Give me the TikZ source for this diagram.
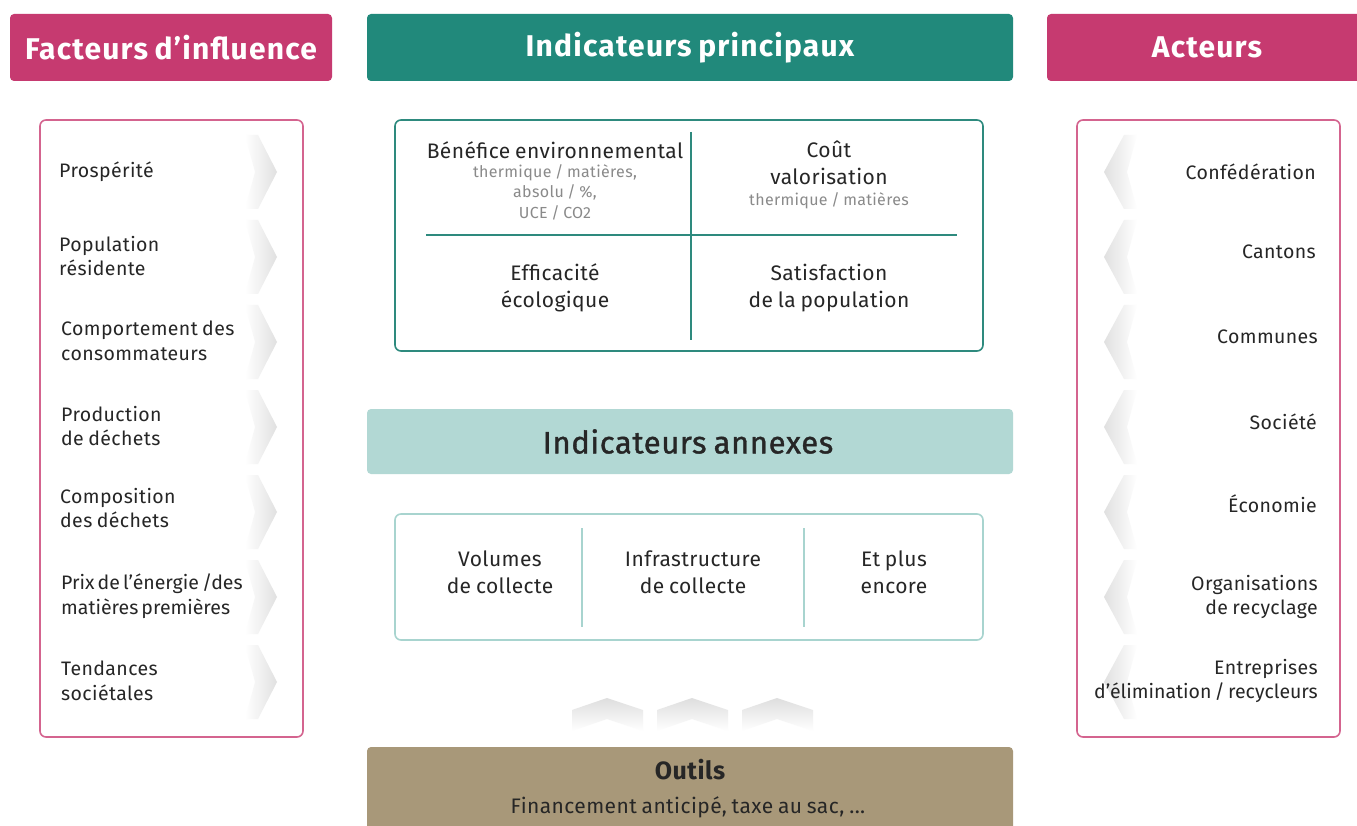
\documentclass[tikz,border=0pt]{standalone}
\usepackage{fontspec}
\setmainfont{Fira Sans}[LetterSpace=2,WordSpace=0.8]
\newfontfamily\medfont{Fira Sans}[LetterSpace=2,WordSpace=0.8,FakeBold=1.2]
\newfontfamily\hdrfont{Fira Sans}[LetterSpace=4,WordSpace=0.8]
\newfontfamily\tightfont{Fira Sans}[LetterSpace=0,WordSpace=0.6]
\definecolor{pinkc}{HTML}{C63A70}
\definecolor{pinkline}{HTML}{D4648F}
\definecolor{tealc}{HTML}{21897B}
\definecolor{tealline}{HTML}{2E8A7E}
\definecolor{lteal}{HTML}{B2D8D4}
\definecolor{ltealline}{HTML}{A8D4CF}
\definecolor{khaki}{HTML}{A89879}
\definecolor{txt}{HTML}{262626}
\definecolor{subtxt}{HTML}{8A8A8A}
\tikzset{
  hdr/.style={text=white, font=\hdrfont\fontsize{30}{34}\selectfont\bfseries},
  item/.style={text=txt, font=\fontsize{19.5}{24.5}\selectfont, inner sep=0pt, align=left, anchor=west},
  ritem/.style={text=txt, font=\fontsize{19.5}{24.5}\selectfont, inner sep=0pt, align=right, anchor=east},
  cell/.style={text=txt, font=\fontsize{21}{27}\selectfont, inner sep=0pt, align=center},
  sub/.style={text=subtxt, font=\fontsize{16}{20.5}\selectfont, inner sep=0pt, align=center},
  chevR/.style={left color=white, right color=black!12, draw=none},
  chevL/.style={right color=white, left color=black!12, draw=none},
  chevU/.style={top color=black!13, bottom color=white, draw=none},
}
\begin{document}
\begin{tikzpicture}[x=1pt,y=-1pt]
\useasboundingbox (0,0) rectangle (1357,826);
\fill[white] (0,0) rectangle (1357,826);

% headers
\fill[pinkc, rounded corners=4pt] (10,14) rectangle (332,81);
\node[hdr] (hleft) at (171,47.5) {Facteurs d’influence};
\fill[tealc, rounded corners=4pt] (367,14) rectangle (1013,81);
\node[hdr] (hmid) at (690,47.5) {Indicateurs principaux};
\fill[pinkc, rounded corners=4pt] (1047,14) rectangle (1365,81);
\node[hdr] (hright) at (1207,47.5) {Acteurs};

% side panels
\draw[pinkline, line width=1.6pt, rounded corners=6pt] (40,120) rectangle (303,737);
\draw[pinkline, line width=1.6pt, rounded corners=6pt] (1077,120) rectangle (1340,737);

% chevrons left and right
\foreach \c in {172,257,342,427,512,597,682}{
  \shade[chevR] (245,\c-37) -- (258,\c-37) -- (277,\c) -- (258,\c+37) -- (245,\c+37) -- (255,\c) -- cycle;
  \shade[chevL] (1137,\c-37) -- (1124,\c-37) -- (1104,\c) -- (1124,\c+37) -- (1137,\c+37) -- (1127,\c) -- cycle;
}

% left items
\node[item] (l1) at (59,172) {Prospérité};
\node[item] (l2) at (59,256) {Population\\résidente};
\node[item] (l3) at (61,341) {Comportement des\\consommateurs};
\node[item] (l4) at (61,426) {Production\\de déchets};
\node[item] (l5) at (60,508) {Composition\\des déchets};
\node[item] (l6) at (61,596) {\tightfont Prix de l’énergie /des\\\tightfont matières premières};
\node[item] (l7) at (61,681) {Tendances\\sociétales};

% right items
\node[ritem] (r1) at (1316,172) {Confédération};
\node[ritem] (r2) at (1316,252) {Cantons};
\node[ritem] (r3) at (1318,337) {Communes};
\node[ritem] (r4) at (1317,422) {Société};
\node[ritem] (r5) at (1317,504) {Économie};
\node[ritem] (r6) at (1318,597) {Organisations\\de recyclage};
\node[ritem] (r7) at (1318,681) {Entreprises\\\tightfont d’élimination\,/\,recycleurs};

% main indicators box
\draw[tealline, line width=1.6pt, rounded corners=6pt] (395,120) rectangle (983,351);
\draw[tealline, line width=1.6pt] (691,132) -- (691,340);
\draw[tealline, line width=1.6pt] (426,235) -- (957,235);
\node[cell] (c1) at (555,150) {Bénéfice environnemental};
\node[sub, anchor=north] (c1s) at (555,164) {thermique / matières,\\absolu / \%,\\UCE / CO2};
\node[cell] (c2) at (829,163) {Coût\\valorisation};
\node[sub] (c2s) at (829,201) {thermique / matières};
\node[cell] (c3) at (555,288) {Efficacité\\écologique};
\node[cell] (c4) at (829,288) {Satisfaction\\de la population};

% annex header
\fill[lteal, rounded corners=4pt] (367,409) rectangle (1013,474);
\node[text=txt, font=\medfont\fontsize{31}{34}\selectfont] (hann) at (688,441.5) {Indicateurs annexes};

% annex box
\draw[ltealline, line width=1.6pt, rounded corners=6pt] (395,514) rectangle (983,640);
\draw[ltealline, line width=1.6pt] (582,528) -- (582,627);
\draw[ltealline, line width=1.6pt] (804,528) -- (804,627);
\node[cell] (a1) at (500,572) {Volumes\\de collecte};
\node[cell] (a2) at (693,572) {Infrastructure\\de collecte};
\node[cell] (a3) at (894,572) {Et plus\\encore};

% up chevrons
\foreach \x in {572,657,742}{
  \shade[chevU] (\x,710) -- (\x+35,698) -- (\x+71,710) -- (\x+71,731) -- (\x+35,719) -- (\x,731) -- cycle;
}

% outils
\fill[khaki, rounded corners=4pt] (367,747) rectangle (1013,840);
\node[text=txt, font=\fontsize{25}{30}\selectfont\bfseries] (out) at (690,770) {Outils};
\node[text=txt, font=\fontsize{21}{24}\selectfont] (outs) at (688,807) {Financement anticipé, taxe au sac, ...};
\end{tikzpicture}
\end{document}
